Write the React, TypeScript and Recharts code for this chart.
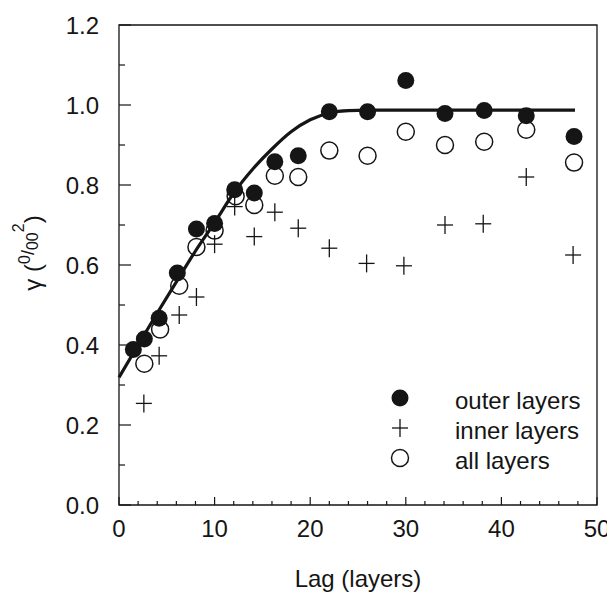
import { ComposedChart, Line, Scatter, XAxis, YAxis, ReferenceArea, Legend } from 'recharts';

// lag (layers) for each sample
const outerLag = [1.5, 2.65, 4.2, 6.1, 8.1, 10.0, 12.1, 14.15, 16.3, 18.75, 22.0, 26.0, 30.0, 34.1, 38.2, 42.6, 47.6]
const outerGamma = [0.389, 0.415, 0.467, 0.58, 0.69, 0.704, 0.788, 0.78, 0.858, 0.873, 0.983, 0.983, 1.061, 0.979, 0.986, 0.973, 0.921]

const innerLag = [2.6, 4.2, 6.3, 8.1, 10.0, 12.1, 14.15, 16.3, 18.75, 22.0, 25.9, 29.8, 34.1, 38.1, 42.6, 47.5]
const innerGamma = [0.254, 0.373, 0.475, 0.52, 0.652, 0.746, 0.671, 0.732, 0.692, 0.642, 0.604, 0.598, 0.7, 0.703, 0.82, 0.625]

const allLag = [2.65, 4.3, 6.3, 8.1, 10.0, 12.2, 14.15, 16.3, 18.75, 22.0, 26.0, 30.0, 34.1, 38.2, 42.6, 47.6]
const allGamma = [0.353, 0.439, 0.548, 0.645, 0.686, 0.772, 0.75, 0.823, 0.82, 0.886, 0.873, 0.933, 0.9, 0.908, 0.938, 0.856]

// fitted model curve
const fitLag = [0, 2, 4, 6, 8, 10, 12, 14, 16, 18, 20, 22, 24, 26, 47.7]
const fitGamma = [0.319, 0.4, 0.48, 0.558, 0.635, 0.706, 0.78, 0.84, 0.89, 0.933, 0.963, 0.98, 0.986, 0.987, 0.987]

const xTicks = [0, 2, 4, 6, 8, 10, 12, 14, 16, 18, 20, 22, 24, 26, 28, 30, 32, 34, 36, 38, 40, 42, 44, 46, 48, 50]
const yTicks = [0, 0.1, 0.2, 0.3, 0.4, 0.5, 0.6, 0.7, 0.8, 0.9, 1.0, 1.1, 1.2]

const legendItems = ['outer layers', 'inner layers', 'all layers']

const toPoints = (xs: number[], ys: number[]) => xs.map((x, i) => ({ x, y: ys[i] }))

const outerData = toPoints(outerLag, outerGamma)
const innerData = toPoints(innerLag, innerGamma)
const allData = toPoints(allLag, allGamma)
const fitData = toPoints(fitLag, fitGamma)

const INK = '#151515'
const FONT = '"Liberation Sans", Arial, Helvetica, sans-serif'

const XTick = (props: any) => {
  const { x, y, payload } = props
  const v = payload.value as number
  const major = v % 10 === 0
  return (
    <g>
      <line x1={x} x2={x} y1={y} y2={y - (major ? 8 : 4)} stroke={INK} strokeWidth={1.2} />
      {major && (
        <text x={x} y={y + 23} textAnchor="middle" dominantBaseline="central" fontFamily={FONT} fontSize={24} fill={INK}>
          {v}
        </text>
      )}
    </g>
  )
}

const YTick = (props: any) => {
  const { x, y, payload } = props
  const v = payload.value as number
  const major = Math.round(v * 10) % 2 === 0
  return (
    <g>
      <line x1={x} x2={x + (major ? 12 : 6)} y1={y} y2={y} stroke={INK} strokeWidth={1.2} />
      {major && (
        <text x={x - 20} y={y} textAnchor="end" dominantBaseline="central" fontFamily={FONT} fontSize={24} fill={INK}>
          {v.toFixed(1)}
        </text>
      )}
    </g>
  )
}

const Dot = (p: any) => <circle cx={p.cx} cy={p.cy} r={8.5} fill={INK} />
const Ring = (p: any) => <circle cx={p.cx} cy={p.cy} r={8.5} fill="none" stroke={INK} strokeWidth={1.5} />
const Cross = (p: any) => (
  <g stroke={INK} strokeWidth={1.3}>
    <line x1={p.cx - 8} x2={p.cx + 8} y1={p.cy} y2={p.cy} />
    <line x1={p.cx} x2={p.cx} y1={p.cy - 9} y2={p.cy + 9} />
  </g>
)

const renderLegend = () => (
  <svg width={230} height={95}>
    {legendItems.map((name, i) => {
      const cy = 15 + i * 30
      return (
        <g key={name}>
          {i === 0 && <Dot cx={12} cy={cy} />}
          {i === 1 && <Cross cx={12} cy={cy} />}
          {i === 2 && <Ring cx={12} cy={cy} />}
          <text x={67} y={cy + 2} dominantBaseline="central" fontFamily={FONT} fontSize={24} fill={INK}>
            {name}
          </text>
        </g>
      )
    })}
  </svg>
)

const YTitle = (props: any) => {
  const vb = props.viewBox
  const cx = vb.x - 86
  const cy = vb.y + vb.height / 2 - 12
  return (
    <text x={cx} y={cy} transform={`rotate(-90, ${cx}, ${cy})`} textAnchor="middle" dominantBaseline="central" fontFamily={FONT} fontSize={24} fill={INK}>
      γ (
      <tspan fontSize={16} dy={-8}>0</tspan>
      <tspan fontSize={18} dy={4}>/</tspan>
      <tspan fontSize={16} dy={4}>00</tspan>
      <tspan fontSize={16} dy={-14}>2</tspan>
      <tspan dy={14}>)</tspan>
    </text>
  )
}

const XTitle = (props: any) => {
  const vb = props.viewBox
  return (
    <text x={vb.x + vb.width / 2} y={vb.y + 73} textAnchor="middle" dominantBaseline="central" fontFamily={FONT} fontSize={24} fill={INK}>
      Lag (layers)
    </text>
  )
}

export default function App() {
  return (
    <ComposedChart width={607} height={590} margin={{ top: 17, right: 18, left: 110, bottom: 92 }}>
      <XAxis
        type="number"
        dataKey="x"
        domain={[0, 50]}
        ticks={xTicks}
        interval={0}
        height={1}
        axisLine={false}
        tickLine={false}
        tickSize={0}
        tickMargin={0}
        tick={<XTick />}
        label={<XTitle />}
      />
      <YAxis
        type="number"
        dataKey="y"
        domain={[0, 1.2]}
        ticks={yTicks}
        interval={0}
        width={1}
        axisLine={false}
        tickLine={false}
        tickSize={0}
        tickMargin={0}
        tick={<YTick />}
        label={<YTitle />}
      />
      <ReferenceArea x1={0} x2={50} y1={0} y2={1.2} fill="none" fillOpacity={0} stroke={INK} strokeWidth={1.3} />
      <Line data={fitData} dataKey="y" type="monotone" stroke={INK} strokeWidth={3.2} dot={false} isAnimationActive={false} />
      <Scatter data={outerData} dataKey="y" shape={Dot} isAnimationActive={false} />
      <Scatter data={innerData} dataKey="y" shape={Cross} isAnimationActive={false} />
      <Scatter data={allData} dataKey="y" shape={Ring} isAnimationActive={false} />
      <Legend
        layout="vertical"
        align="center"
        verticalAlign="middle"
        content={renderLegend}
        wrapperStyle={{ position: 'absolute', left: 380, top: 375, width: 230, height: 95 }}
      />
    </ComposedChart>
  )
}
